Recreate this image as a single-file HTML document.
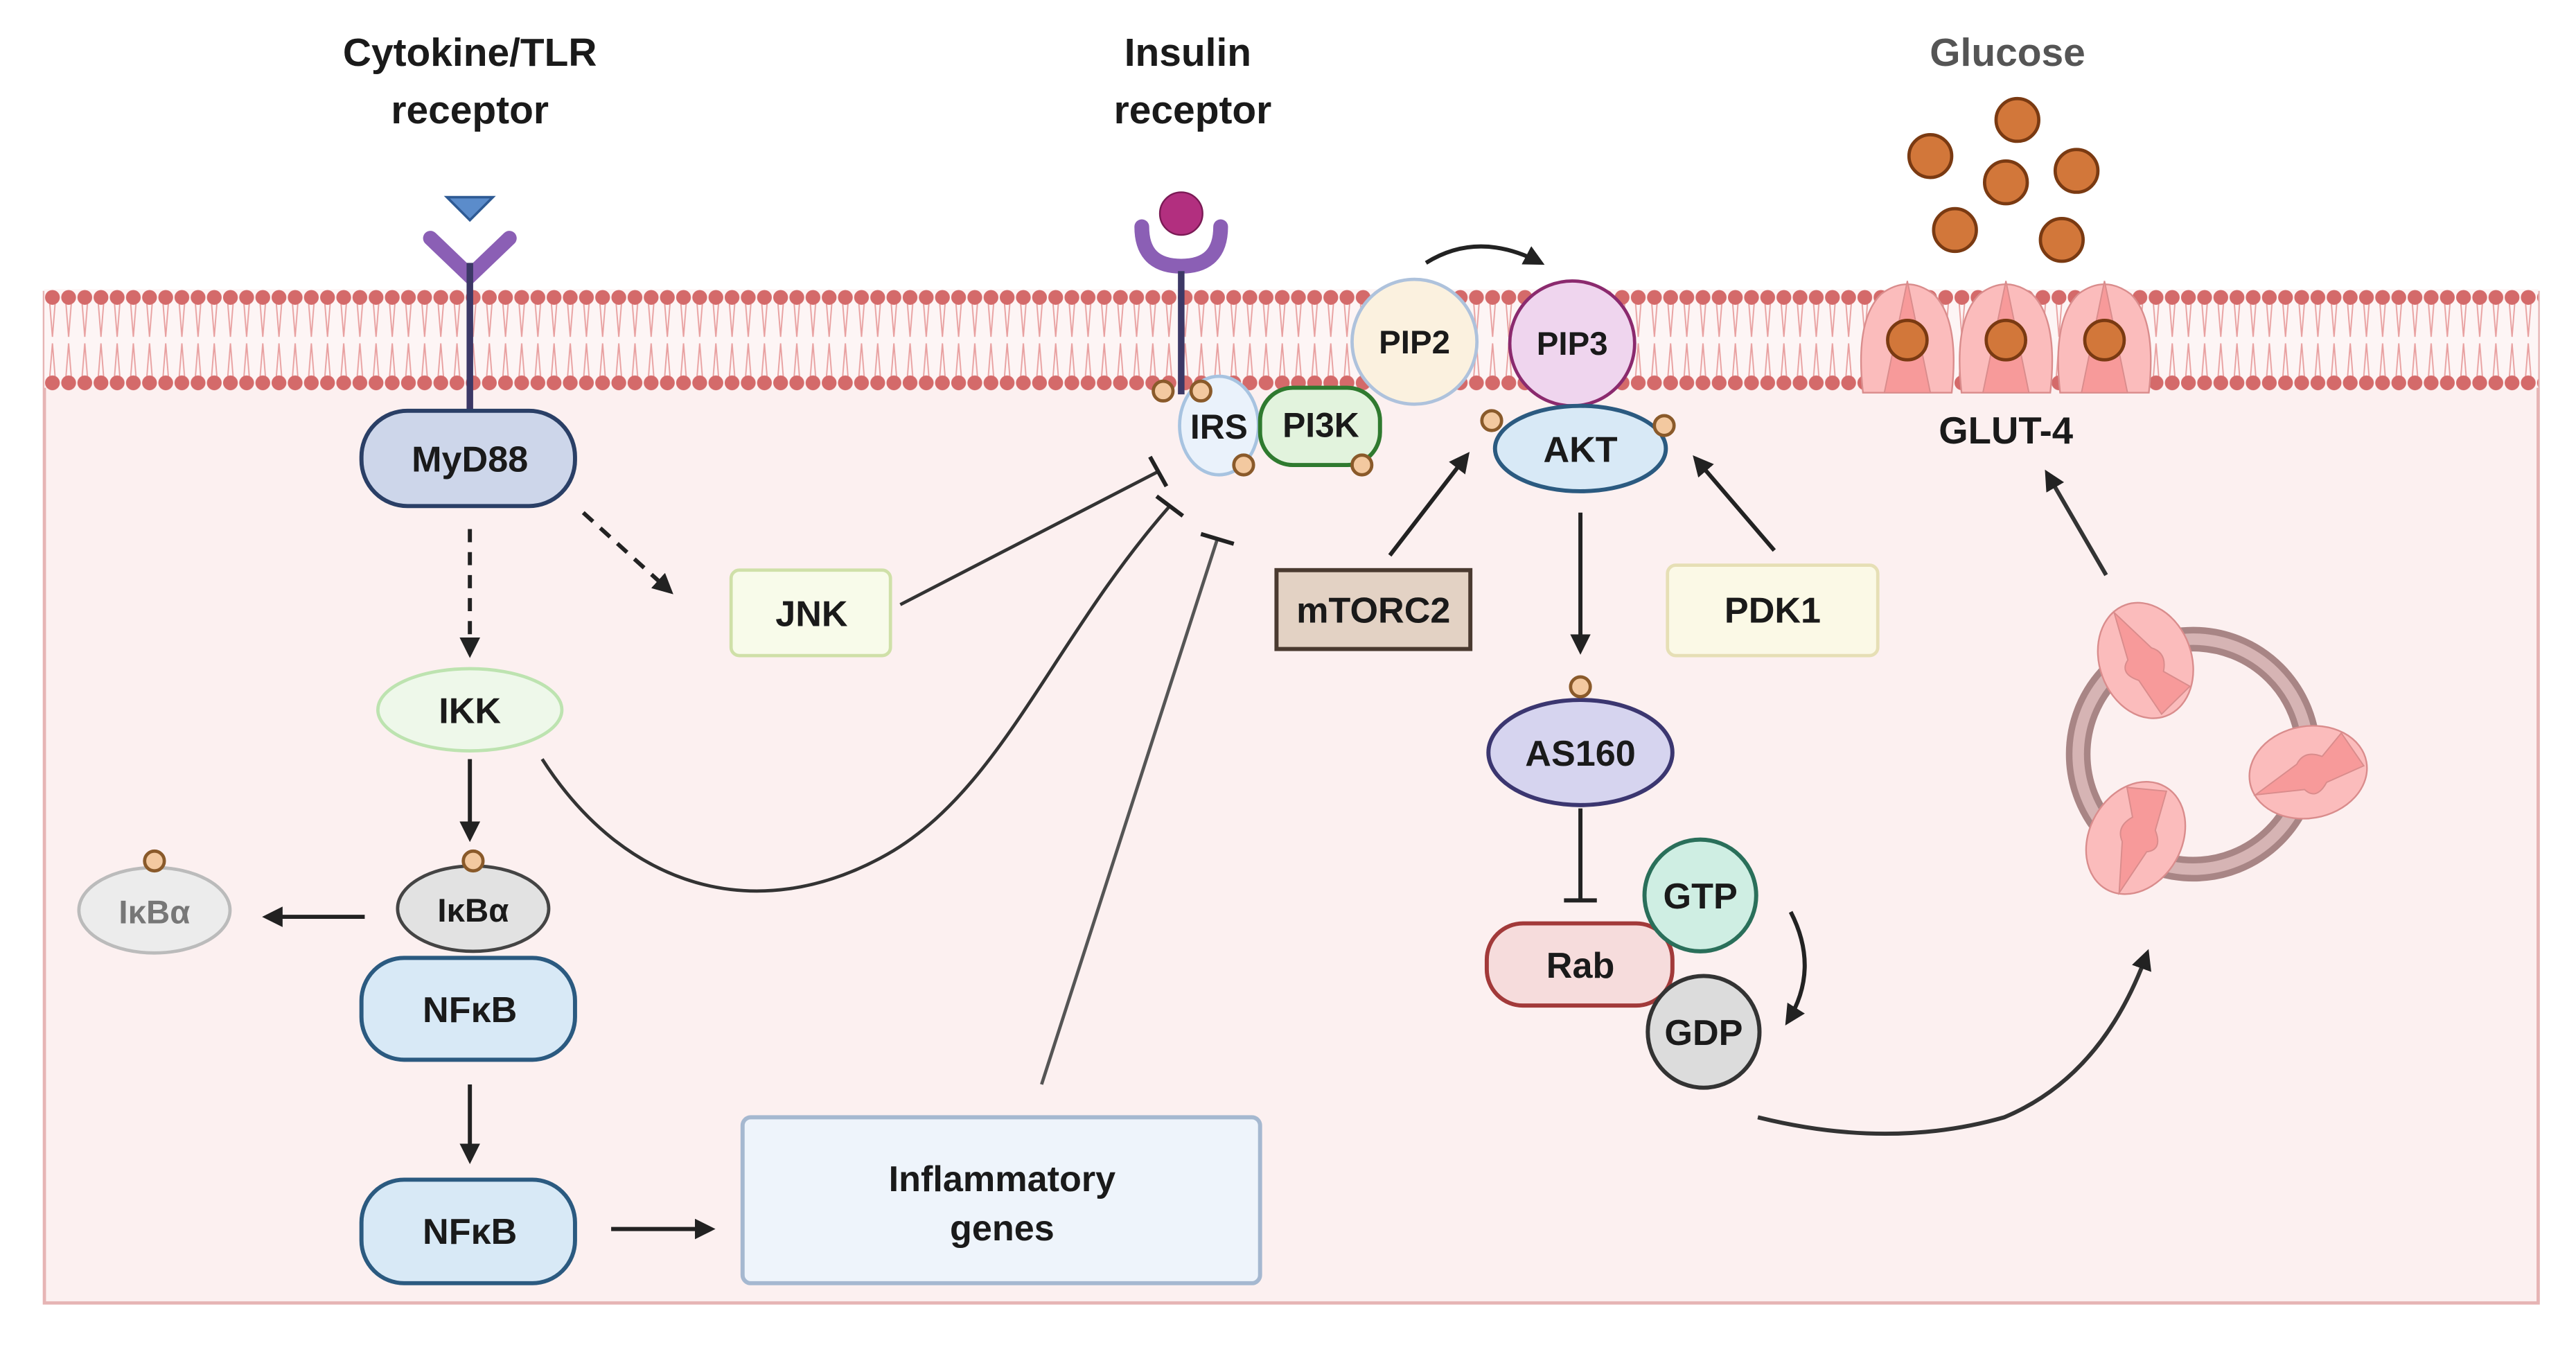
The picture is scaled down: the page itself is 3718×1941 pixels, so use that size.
<!DOCTYPE html>
<html><head><meta charset="utf-8"><style>
html,body{margin:0;padding:0;background:#fff}
svg{display:block}
text{font-family:"Liberation Sans",sans-serif;font-weight:bold;text-anchor:middle;fill:#1a1a1a}
</style></head><body>
<svg width="3718" height="1941" viewBox="0 0 1568 818.6" xmlns="http://www.w3.org/2000/svg">
<defs>
<pattern id="dotsT" x="27" y="171" width="9.85" height="20" patternUnits="userSpaceOnUse">
<circle cx="4.9" cy="10" r="4.5" fill="#d46a6a"/>
</pattern>
<pattern id="dotsB" x="27" y="223" width="9.85" height="20" patternUnits="userSpaceOnUse">
<circle cx="4.9" cy="10" r="4.5" fill="#d46a6a"/>
</pattern>
<pattern id="tails" x="27" y="185" width="9.85" height="44" patternUnits="userSpaceOnUse">
<path d="M3.3 0 L4.9 20 L6.5 0 M3.3 44 L4.9 24 L6.5 44" stroke="#e8a0a0" stroke-width="0.8" fill="none"/>
</pattern>
<marker id="ah" viewBox="0 0 10 10" refX="8" refY="5" markerWidth="5" markerHeight="5" orient="auto"><path d="M0 0 L10 5 L0 10 z" fill="#222"/></marker>
<g id="glut">
<path d="M-27 32 Q-32 -12 -16 -28 Q0 -40 16 -28 Q32 -12 27 32 Z" fill="#fbbcbc" stroke="#d98c8c" stroke-width="1"/>
<path d="M0 -36 L-14 32 L14 32 Z" fill="#f79a9a" stroke="#d98c8c" stroke-width="0.8"/>
</g>
<g id="vglut">
<ellipse cx="0" cy="0" rx="28" ry="36" fill="#fbbcbc" stroke="#d98c8c" stroke-width="1"/>
<path d="M-8 -34 L-10 -4 Q-18 2 -8 10 L-2 34 L20 24 L8 10 Q14 0 6 -6 Z" fill="#f79a9a" stroke="#d98c8c" stroke-width="0.8"/>
</g>
</defs>

<!-- cell -->
<rect x="27" y="178" width="1518" height="615" fill="#fcf0f0" stroke="#e6b4b4" stroke-width="2"/>
<rect x="27" y="176" width="1518" height="60" fill="#fdf5f5"/>
<rect x="27" y="185" width="1518" height="44" fill="url(#tails)"/>
<rect x="27" y="171" width="1518" height="20" fill="url(#dotsT)"/>
<rect x="27" y="223" width="1518" height="20" fill="url(#dotsB)"/>

<!-- titles -->
<text x="286" y="40" font-size="24">Cytokine/TLR</text>
<text x="286" y="75" font-size="24">receptor</text>
<text x="723" y="40" font-size="24">Insulin</text>
<text x="726" y="75" font-size="24">receptor</text>
<text x="1222" y="40" font-size="24" style="fill:#555">Glucose</text>

<!-- TLR receptor -->
<path d="M272 120 L300 120 L286 134 Z" fill="#5b8ccb" stroke="#2e5a94" stroke-width="1.5"/>
<path d="M262 145 L286 168 L310 145" stroke="#8b5fb5" stroke-width="9" fill="none" stroke-linecap="round"/>
<line x1="286" y1="160" x2="286" y2="255" stroke="#3c3866" stroke-width="4"/>

<!-- MyD88 -->
<rect x="220" y="250" width="130" height="58" rx="28" fill="#cdd6ea" stroke="#2a3f66" stroke-width="2.5"/>
<text x="286" y="287" font-size="22">MyD88</text>
<line x1="286" y1="322" x2="286" y2="398" stroke="#222" stroke-width="2.5" stroke-dasharray="8,6" marker-end="url(#ah)"/>
<line x1="355" y1="312" x2="408" y2="360" stroke="#222" stroke-width="2.5" stroke-dasharray="8,6" marker-end="url(#ah)"/>

<!-- JNK -->
<rect x="445" y="347" width="97" height="52" rx="5" fill="#f8fbea" stroke="#cfe0a8" stroke-width="2"/>
<text x="494" y="381" font-size="22">JNK</text>

<!-- IKK -->
<ellipse cx="286" cy="432" rx="56" ry="25" fill="#eef8ea" stroke="#bde3b0" stroke-width="2"/>
<text x="286" y="440" font-size="22">IKK</text>
<line x1="286" y1="462" x2="286" y2="510" stroke="#222" stroke-width="2.5" marker-end="url(#ah)"/>

<!-- IkBa + NFkB -->
<ellipse cx="288" cy="553" rx="46" ry="26" fill="#e2e2e2" stroke="#444" stroke-width="2"/>
<circle cx="288" cy="524" r="6" fill="#f3c9a0" stroke="#8a5a2a" stroke-width="2"/>
<text x="288" y="561" font-size="20">IκBα</text>
<rect x="220" y="583" width="130" height="62" rx="26" fill="#d8e9f6" stroke="#2b5a80" stroke-width="2.5"/>
<text x="286" y="622" font-size="22">NFκB</text>
<line x1="286" y1="660" x2="286" y2="706" stroke="#222" stroke-width="2.5" marker-end="url(#ah)"/>
<rect x="220" y="718" width="130" height="63" rx="26" fill="#d8e9f6" stroke="#2b5a80" stroke-width="2.5"/>
<text x="286" y="757" font-size="22">NFκB</text>
<line x1="372" y1="748" x2="433" y2="748" stroke="#222" stroke-width="2.5" marker-end="url(#ah)"/>

<!-- free IkBa -->
<ellipse cx="94" cy="554" rx="46" ry="26" fill="#ececec" stroke="#bbb" stroke-width="2"/>
<circle cx="94" cy="524" r="6" fill="#f3c9a0" stroke="#8a5a2a" stroke-width="2"/>
<text x="94" y="562" font-size="20" style="fill:#777">IκBα</text>
<line x1="222" y1="558" x2="162" y2="558" stroke="#222" stroke-width="2.5" marker-end="url(#ah)"/>

<!-- Inflammatory genes -->
<rect x="452" y="680" width="315" height="101" rx="5" fill="#eef4fb" stroke="#a5b8d0" stroke-width="2.5"/>
<text x="610" y="725" font-size="22">Inflammatory</text>
<text x="610" y="755" font-size="22">genes</text>

<!-- inhibitions -->
<path d="M548 368 L705 287" stroke="#333" stroke-width="2" fill="none"/>
<line x1="700" y1="278" x2="710" y2="296" stroke="#222" stroke-width="2.5"/>
<path d="M330 462 C380 540 460 565 540 520 C610 480 640 390 712 308" stroke="#333" stroke-width="2" fill="none"/>
<line x1="704" y1="302" x2="720" y2="314" stroke="#222" stroke-width="2.5"/>
<path d="M634 660 L741 328" stroke="#555" stroke-width="2" fill="none"/>
<line x1="731" y1="325" x2="751" y2="331" stroke="#222" stroke-width="2.5"/>

<!-- insulin receptor -->
<path d="M695 138 Q695 162 719 162 Q743 162 743 138" stroke="#8b5fb5" stroke-width="9" fill="none" stroke-linecap="round"/>
<circle cx="719" cy="130" r="13" fill="#b22f7f" stroke="#7a1a55" stroke-width="1"/>
<line x1="719" y1="165" x2="719" y2="240" stroke="#3c3866" stroke-width="4"/>

<!-- IRS PI3K -->
<ellipse cx="742" cy="259" rx="24" ry="30" fill="#eaf2fb" stroke="#a7c3e0" stroke-width="2"/>
<text x="742" y="267" font-size="21">IRS</text>
<rect x="767" y="236" width="73" height="47" rx="20" fill="#e2f3dd" stroke="#2f7a2f" stroke-width="2.5"/>
<text x="804" y="266" font-size="21">PI3K</text>
<circle cx="708" cy="238" r="6" fill="#f3c9a0" stroke="#8a5a2a" stroke-width="2"/>
<circle cx="731" cy="238" r="6" fill="#f3c9a0" stroke="#8a5a2a" stroke-width="2"/>
<circle cx="757" cy="283" r="6" fill="#f3c9a0" stroke="#8a5a2a" stroke-width="2"/>
<circle cx="829" cy="283" r="6" fill="#f3c9a0" stroke="#8a5a2a" stroke-width="2"/>

<!-- PIP2 PIP3 -->
<circle cx="861" cy="208" r="38" fill="#fbf1df" stroke="#aec2dc" stroke-width="2"/>
<text x="861" y="215" font-size="20">PIP2</text>
<circle cx="957" cy="209" r="38" fill="#efd5ee" stroke="#8b2a6e" stroke-width="2"/>
<text x="957" y="216" font-size="20">PIP3</text>
<path d="M868 160 Q900 140 938 160" stroke="#222" stroke-width="2.5" fill="none" marker-end="url(#ah)"/>

<!-- AKT -->
<ellipse cx="962" cy="273" rx="52" ry="26" fill="#d8e9f6" stroke="#2b5a80" stroke-width="2.5"/>
<text x="962" y="281" font-size="22">AKT</text>
<circle cx="908" cy="256" r="6" fill="#f3c9a0" stroke="#8a5a2a" stroke-width="2"/>
<circle cx="1013" cy="259" r="6" fill="#f3c9a0" stroke="#8a5a2a" stroke-width="2"/>
<line x1="846" y1="338" x2="893" y2="277" stroke="#222" stroke-width="2.5" marker-end="url(#ah)"/>
<line x1="1080" y1="335" x2="1032" y2="279" stroke="#222" stroke-width="2.5" marker-end="url(#ah)"/>
<line x1="962" y1="312" x2="962" y2="396" stroke="#222" stroke-width="2.5" marker-end="url(#ah)"/>

<rect x="777" y="347" width="118" height="48" fill="#e3d2c4" stroke="#4a3a30" stroke-width="2.5"/>
<text x="836" y="379" font-size="22">mTORC2</text>
<rect x="1015" y="344" width="128" height="55" rx="5" fill="#fbf9e6" stroke="#e6dfb5" stroke-width="2"/>
<text x="1079" y="379" font-size="22">PDK1</text>

<!-- AS160 -->
<ellipse cx="962" cy="458" rx="56" ry="32" fill="#d6d4ef" stroke="#3b3670" stroke-width="2.5"/>
<circle cx="962" cy="418" r="6" fill="#f3c9a0" stroke="#8a5a2a" stroke-width="2"/>
<text x="962" y="466" font-size="22">AS160</text>
<line x1="962" y1="492" x2="962" y2="548" stroke="#222" stroke-width="2.5"/>
<line x1="952" y1="548" x2="972" y2="548" stroke="#222" stroke-width="2.5"/>

<!-- Rab GTP GDP -->
<rect x="905" y="562" width="113" height="50" rx="22" fill="#f6dcdc" stroke="#a23a3a" stroke-width="2.5"/>
<text x="962" y="595" font-size="22">Rab</text>
<circle cx="1035" cy="545" r="34" fill="#cfeee3" stroke="#2a6f5a" stroke-width="2.5"/>
<text x="1035" y="553" font-size="22">GTP</text>
<circle cx="1037" cy="628" r="34" fill="#dcdcdc" stroke="#333" stroke-width="2.5"/>
<text x="1037" y="636" font-size="22">GDP</text>
<path d="M1090 555 Q1108 590 1088 622" stroke="#222" stroke-width="2.5" fill="none" marker-end="url(#ah)"/>
<path d="M1070 680 Q1150 700 1220 680 Q1280 655 1307 580" stroke="#333" stroke-width="2.5" fill="none" marker-end="url(#ah)"/>

<!-- Glucose -->
<g fill="#d2773a" stroke="#7a3a12" stroke-width="2">
<circle cx="1228" cy="73" r="13"/><circle cx="1175" cy="95" r="13"/><circle cx="1264" cy="104" r="13"/>
<circle cx="1221" cy="111" r="13"/><circle cx="1190" cy="140" r="13"/><circle cx="1255" cy="146" r="13"/>
</g>
<!-- GLUT-4 in membrane -->
<use href="#glut" x="1161" y="207"/>
<use href="#glut" x="1221" y="207"/>
<use href="#glut" x="1281" y="207"/>
<g fill="#d2773a" stroke="#7a3a12" stroke-width="2">
<circle cx="1161" cy="207" r="12"/><circle cx="1221" cy="207" r="12"/><circle cx="1281" cy="207" r="12"/>
</g>
<text x="1221" y="270" font-size="23">GLUT-4</text>
<line x1="1282" y1="350" x2="1246" y2="288" stroke="#333" stroke-width="2.5" marker-end="url(#ah)"/>

<!-- vesicle -->
<circle cx="1335" cy="459" r="70" fill="none" stroke="#a88585" stroke-width="15"/>
<circle cx="1335" cy="459" r="70" fill="none" stroke="#d6b4b4" stroke-width="7"/>
<use href="#vglut" transform="translate(1306,402) rotate(-20)"/>
<use href="#vglut" transform="translate(1405,470) rotate(-100)"/>
<use href="#vglut" transform="translate(1300,510) rotate(210)"/>
</svg>
</body></html>
